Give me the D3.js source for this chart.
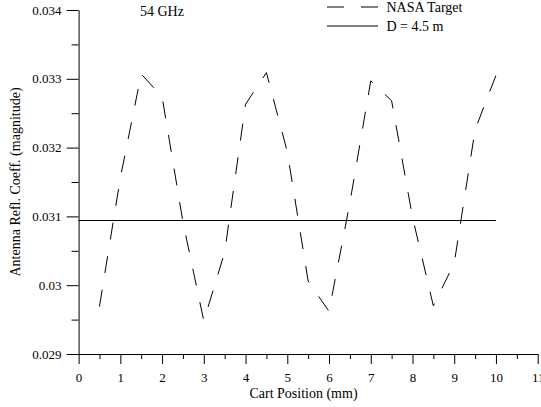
<!DOCTYPE html>
<html>
<head>
<meta charset="utf-8">
<script src="https://cdn.jsdelivr.net/npm/d3@7"></script>
<style>
  html, body { margin: 0; padding: 0; background: #fff; }
  svg { display: block; }
  text { font-family: "Liberation Serif", "Times New Roman", serif; fill: #000; }
</style>
</head>
<body>
<svg id="chart" width="541" height="407"></svg>
<script>
// Data
const cartPosition = [0.5, 1.0, 1.5, 2.0, 2.5, 3.0, 3.5, 4.0, 4.5, 5.0, 5.5, 6.0, 6.5, 7.0, 7.5, 8.0, 8.5, 9.0, 9.5, 10.0];
const nasaTarget = [0.02969, 0.03156, 0.03307, 0.03274, 0.03092, 0.02948, 0.03048, 0.03263, 0.03309, 0.03194,
                    0.03006, 0.02962, 0.03120, 0.03297, 0.03268, 0.03099, 0.02970, 0.03032, 0.03226, 0.03305];
const dLinePosition = [0, 10];
const dLineValue = [0.03094, 0.03094];
const seriesNames = ["NASA Target", "D = 4.5 m"];
const xTicks = [0, 1, 2, 3, 4, 5, 6, 7, 8, 9, 10, 11];
const xMinorTicks = [0.5, 1.5, 2.5, 3.5, 4.5, 5.5, 6.5, 7.5, 8.5, 9.5, 10.5];
const yTicks = [0.029, 0.030, 0.031, 0.032, 0.033, 0.034];
const yTickLabels = ["0.029", "0.03", "0.031", "0.032", "0.033", "0.034"];
const yMinorTicks = [0.0295, 0.0305, 0.0315, 0.0325, 0.0335];
const annotation = "54 GHz";
const xTitle = "Cart Position (mm)";
const yTitle = "Antenna Refl. Coeff. (magnitude)";

const svg = d3.select("#chart");
const x = d3.scaleLinear().domain([0, 11]).range([78.6, 537.7]);
const y = d3.scaleLinear().domain([0.029, 0.034]).range([354, 10]);

// X axis minor
svg.append("g").attr("transform", "translate(0,354)")
  .call(d3.axisBottom(x).tickValues(xMinorTicks).tickSize(5).tickSizeOuter(0).tickFormat(""))
  .call(g => g.select(".domain").remove());
// X axis major
const gx = svg.append("g").attr("transform", "translate(0,354)")
  .call(d3.axisBottom(x).tickValues(xTicks).tickSize(10).tickSizeOuter(0).tickFormat(d3.format("d")));
gx.selectAll("text").attr("y", 28.3).attr("dy", null).style("font-size", "13px");

// Y axis minor
svg.append("g").attr("transform", "translate(78.6,0)")
  .call(d3.axisLeft(y).tickValues(yMinorTicks).tickSize(7).tickSizeOuter(0).tickFormat(""))
  .call(g => g.select(".domain").remove());
// Y axis major
const gy = svg.append("g").attr("transform", "translate(78.6,0)")
  .call(d3.axisLeft(y).tickValues(yTicks).tickSize(12).tickSizeOuter(0)
    .tickFormat((d, i) => yTickLabels[i]));
gy.selectAll("text").attr("x", -17).attr("dy", "0.32em").style("font-size", "13px");

svg.selectAll(".domain, .tick line").attr("stroke", "#000").attr("stroke-width", 1);
svg.selectAll(".tick text").attr("fill", "#000").style("font-family", '"Liberation Serif", serif');

// Lines
const line = d3.line().x(d => x(d[0])).y(d => y(d[1]));
svg.append("path")
  .datum(cartPosition.map((p, i) => [p, nasaTarget[i]]))
  .attr("d", line).attr("fill", "none").attr("stroke", "#000").attr("stroke-width", 1)
  .attr("stroke-dasharray", "17,17");
svg.append("path")
  .datum(dLinePosition.map((p, i) => [p, dLineValue[i]]))
  .attr("d", line).attr("fill", "none").attr("stroke", "#000").attr("stroke-width", 1);

// Legend
const legend = svg.append("g");
legend.append("line").attr("x1", 327).attr("x2", 378).attr("y1", 7).attr("y2", 7)
  .attr("stroke", "#000").attr("stroke-dasharray", "17,17");
legend.append("line").attr("x1", 327).attr("x2", 378).attr("y1", 26).attr("y2", 26)
  .attr("stroke", "#000");
legend.append("text").attr("x", 386.5).attr("y", 11.7).style("font-size", "14px").text(seriesNames[0]);
legend.append("text").attr("x", 386.5).attr("y", 30.7).style("font-size", "14px").text(seriesNames[1]);

// Annotation
svg.append("text").attr("x", 140).attr("y", 16).style("font-size", "14px").text(annotation);

// Axis titles
svg.append("text").attr("x", 303.5).attr("y", 397.5).attr("text-anchor", "middle")
  .style("font-size", "14px").text(xTitle);
svg.append("text").attr("transform", "translate(19.5,182) rotate(-90)").attr("text-anchor", "middle")
  .style("font-size", "14px").text(yTitle);
</script>
</body>
</html>
